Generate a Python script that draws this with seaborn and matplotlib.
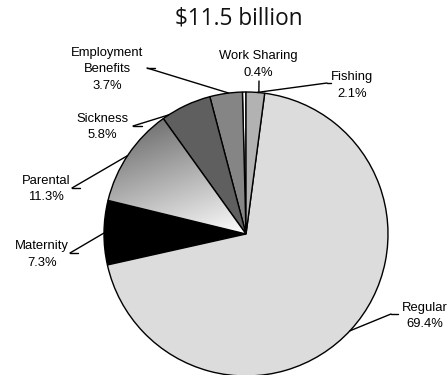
import numpy as np
import matplotlib
matplotlib.use("Agg")
import matplotlib.pyplot as plt
from matplotlib.lines import Line2D
import seaborn as sns

# Benefit types, counter-clockwise from 12 o'clock
categories = ["Work Sharing", "Employment\nBenefits", "Sickness", "Parental",
              "Maternity", "Regular", "Fishing"]
shares = [0.4, 3.7, 5.8, 11.3, 7.3, 69.4, 2.1]
fill_colors = ["#ffffff", "#858585", "#5f5f5f", "#ffffff",
               "#000000", "#dcdcdc", "#b2b2b2"]
title_text = "$11.5 billion"

# Label placement (pixel centre of the text block, measured from top-left),
# the angle where each leader meets the pie, and the leader elbow point.
label_xy = [(258, 64.5), (107, 69.5), (102, 127), (46, 189),
            (42, 254.5), (425, 316), (352, 85.5)]
anchor_deg = [84.8, 97.0, 123.0, 146.5, 179.6, -43.0, 85.5]
elbow_xy = [(259, 81), (147, 68), (133, 126), (72, 188),
            (70, 253), (391, 314), (327, 83)]
elbow_end = [None, (155, 68), (142, 126), (80, 188),
             (78, 253), (398, 314), (331, 83)]

sns.set_theme(style="white")
plt.rcParams["font.family"] = ["Liberation Sans", "DejaVu Sans"]

W, H = 448, 375
fig = plt.figure(figsize=(W / 100, H / 100), dpi=100)
fig.patch.set_facecolor("white")


def fig_xy(px, py):
    return px / W, 1 - py / H


cx, cy, r = 246, 234, 142
ax = fig.add_axes([(cx - r) / W, (H - cy - r) / H, 2 * r / W, 2 * r / H])
ax.set_axis_off()

wedges, _ = ax.pie(shares, colors=fill_colors, startangle=90,
                   counterclock=True, radius=1,
                   wedgeprops=dict(edgecolor="black", linewidth=1.0))
ax.set_xlim(-1, 1)
ax.set_ylim(-1, 1)
ax.set_aspect("equal")

# Shaded fill for the parental wedge: dark toward the upper-left rim,
# fading to white at the centre.
gx, gy = np.meshgrid(np.linspace(-1, 1, 400), np.linspace(-1, 1, 400))
d = np.deg2rad(110)
t = np.clip(gx * np.cos(d) + gy * np.sin(d), 0, 1)
shade = 1 - t * (145 / 255)
par = wedges[3]
im = ax.imshow(shade, extent=[-1, 1, -1, 1], origin="lower", cmap="gray",
               vmin=0, vmax=1, zorder=par.get_zorder() + 0.1,
               interpolation="bilinear")
im.set_clip_path(par)
par.set_facecolor("none")
par.set_zorder(par.get_zorder() + 0.2)
ax.set_xlim(-1, 1)
ax.set_ylim(-1, 1)

# Title
tx, ty = fig_xy(239, 19)
fig.text(tx, ty, title_text, ha="center", va="center",
         family=["Open Sans", "DejaVu Sans"], fontsize=16.3, color="#111111")

# Labels with leader lines
for cat, val, (lx, ly), ang, e0, e1 in zip(categories, shares, label_xy,
                                            anchor_deg, elbow_xy, elbow_end):
    fx, fy = fig_xy(lx, ly)
    fig.text(fx, fy, f"{cat}\n{val:.1f}%", ha="center", va="center",
             fontsize=9.4, linespacing=1.55, color="black")
    a = np.deg2rad(ang)
    ax_pt = fig.transFigure.inverted().transform(
        ax.transData.transform((np.cos(a), np.sin(a))))
    ex, ey = fig_xy(*e0)
    fig.add_artist(Line2D([ex, ax_pt[0]], [ey, ax_pt[1]], color="black",
                          linewidth=1.0, transform=fig.transFigure))
    if e1 is not None:
        hx, hy = fig_xy(*e1)
        fig.add_artist(Line2D([ex, hx], [ey, hy], color="black",
                              linewidth=1.0, transform=fig.transFigure))

fig.savefig("out.png", dpi=100, facecolor="white")
